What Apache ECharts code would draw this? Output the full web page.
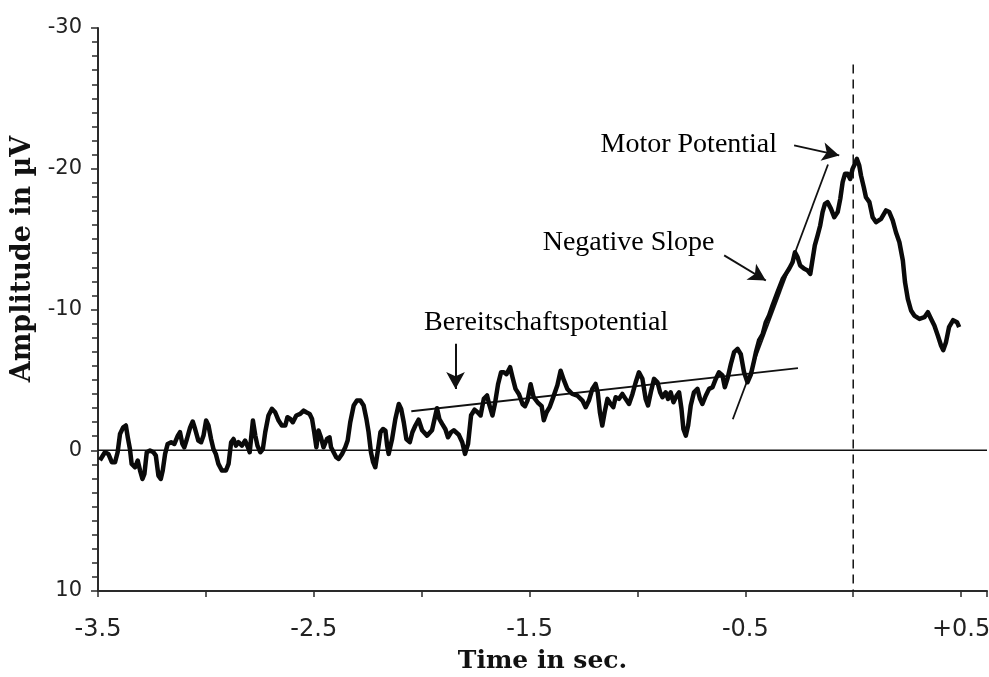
<!DOCTYPE html>
<html>
<head>
<meta charset="utf-8">
<script src="https://cdn.jsdelivr.net/npm/echarts@6/dist/echarts.min.js"></script>
<style>
html,body{margin:0;padding:0;background:#fff;}
#chart{width:989px;height:677px;}
</style>
</head>
<body>
<div id="chart"></div>
<script>
// ---- data (time in sec, amplitude in µV) ----
const time = [
-3.491,-3.468,-3.452,-3.436,-3.421,-3.409,-3.398,-3.383,-3.371,-3.362,
-3.352,-3.344,-3.328,-3.316,-3.305,-3.294,-3.285,-3.274,-3.259,-3.243,
-3.232,-3.220,-3.209,-3.200,-3.189,-3.177,-3.161,-3.146,-3.130,-3.120,
-3.109,-3.100,-3.088,-3.073,-3.061,-3.050,-3.035,-3.022,-3.011,-2.999,
-2.988,-2.976,-2.965,-2.954,-2.942,-2.926,-2.907,-2.895,-2.883,-2.872,
-2.861,-2.849,-2.833,-2.818,-2.805,-2.797,
-2.782,-2.771,-2.761,-2.748,-2.736,-2.725,-2.710,-2.694,-2.679,-2.663,
-2.648,-2.632,-2.622,-2.609,-2.597,-2.581,-2.563,-2.547,-2.535,-2.519,
-2.508,-2.498,-2.488,-2.478,-2.467,-2.455,-2.439,-2.427,-2.420,-2.408,
-2.396,-2.385,-2.369,-2.354,-2.343,-2.331,-2.315,-2.300,-2.284,-2.269,
-2.256,-2.246,-2.235,-2.225,-2.215,-2.204,-2.191,-2.179,-2.168,-2.160,
-2.153,-2.137,-2.122,-2.106,-2.095,-2.083,-2.071,-2.055,
-2.043,-2.029,-2.014,-1.998,-1.975,-1.952,-1.929,-1.918,-1.905,-1.890,
-1.878,-1.864,-1.851,-1.828,-1.812,-1.799,-1.785,-1.771,-1.755,-1.741,
-1.727,-1.712,-1.697,-1.686,-1.672,-1.660,-1.646,-1.632,-1.619,-1.607,
-1.590,-1.579,-1.565,-1.549,-1.532,-1.521,-1.509,-1.495,-1.481,-1.463,
-1.444,-1.434,-1.421,-1.407,-1.393,-1.371,-1.356,-1.341,-1.325,
-1.302,-1.279,-1.255,-1.240,-1.225,-1.209,-1.194,-1.184,-1.174,-1.163,
-1.152,-1.139,-1.124,-1.112,-1.101,-1.086,-1.070,-1.055,-1.039,-1.023,
-1.008,-0.993,-0.977,-0.962,-0.951,-0.938,-0.923,-0.907,-0.895,-0.884,
-0.869,-0.858,-0.846,-0.833,-0.818,-0.807,-0.796,-0.787,-0.776,-0.765,
-0.753,-0.738,-0.722,-0.710,-0.699,-0.683,-0.668,-0.652,-0.637,-0.622,
-0.606,-0.595,-0.583,-0.567,-0.552,-0.536,-0.521,-0.506,-0.490,-0.474,
-0.459,-0.451,-0.436,-0.420,-0.405,-0.390,-0.374,-0.351,-0.327,-0.312,
-0.297,-0.281,-0.270,-0.258,-0.246,-0.227,-0.211,-0.199,-0.188,-0.178,
-0.165,-0.153,-0.142,-0.131,-0.119,-0.103,-0.088,-0.072,-0.060,-0.049,
-0.038,-0.026,-0.014,-0.003,0.008,0.017,0.028,0.036,0.049,0.059,
0.075,0.090,0.106,0.129,0.152,0.167,0.183,0.198,0.214,0.230,
0.240,0.253,0.268,0.283,0.307,0.330,0.346,0.361,0.376,0.392,
0.407,0.417,0.430,0.444,0.463,0.481,0.491
];
const amplitude = [
0.71,0.14,0.26,0.85,0.85,0.14,-1.16,-1.63,-1.76,-0.92,
-0.09,0.97,1.21,0.73,1.44,2.04,1.68,0.14,0.02,0.14,
0.38,1.80,2.04,1.44,0.26,-0.45,-0.57,-0.45,-1.04,-1.28,
-0.45,-0.21,-0.80,-1.63,-2.04,-1.51,-0.69,-0.57,-1.04,-2.11,
-1.76,-0.80,-0.09,0.26,0.97,1.44,1.44,0.97,-0.57,-0.80,
-0.33,-0.57,-0.33,-0.69,-0.21,0.14,
-2.11,-1.04,-0.33,0.14,-0.09,-1.28,-2.47,-2.94,-2.70,-2.11,
-1.76,-1.76,-2.35,-2.22,-1.99,-2.47,-2.58,-2.82,-2.70,-2.58,
-2.22,-1.28,-0.21,-1.40,-0.92,-0.21,-0.80,-0.92,-0.21,0.14,
0.50,0.62,0.26,-0.21,-0.69,-1.99,-3.18,-3.53,-3.53,-3.18,
-2.22,-1.28,0.14,0.85,1.21,0.14,-1.28,-1.51,-1.40,-0.33,
0.26,-0.80,-2.22,-3.29,-2.94,-1.99,-0.80,-0.57,
-1.28,-1.76,-2.17,-1.42,-1.04,-1.42,-2.99,-2.22,-1.87,-1.49,
-0.92,-1.28,-1.42,-1.10,-0.57,0.26,-0.45,-2.49,-2.88,-2.70,
-2.47,-3.65,-3.89,-3.20,-2.47,-3.34,-4.69,-5.54,-5.54,-5.40,
-5.90,-5.19,-4.36,-3.98,-3.27,-3.13,-3.55,-4.69,-3.77,-3.41,
-3.13,-2.13,-2.70,-3.06,-3.65,-4.62,-5.65,-4.98,-4.36,
-4.00,-3.89,-3.53,-3.06,-3.53,-4.36,-4.71,-4.12,-2.70,-1.76,
-2.70,-3.65,-3.29,-3.06,-3.77,-3.65,-4.00,-3.65,-3.29,-4.00,
-4.83,-5.54,-5.07,-3.65,-3.18,-4.12,-5.07,-4.83,-4.12,-3.77,
-4.12,-3.65,-4.12,-3.41,-3.89,-4.12,-2.94,-1.51,-1.04,-1.76,
-3.18,-4.12,-4.36,-3.65,-3.29,-3.89,-4.36,-4.48,-5.07,-5.54,
-5.31,-4.48,-5.07,-6.13,-6.97,-7.20,-6.82,-5.54,-4.83,-5.40,
-6.40,-6.97,-7.82,-8.24,-9.10,-9.57,-10.28,-11.23,-12.17,-12.53,
-12.89,-13.36,-14.07,-13.72,-13.13,-12.89,-12.77,-12.53,-13.60,-14.55,
-15.26,-15.97,-16.92,-17.51,-17.63,-17.15,-16.56,-16.92,-17.86,-19.05,
-19.64,-19.64,-19.28,-19.99,-20.35,-20.70,-20.23,-19.52,-18.69,-17.98,
-17.63,-16.56,-16.20,-16.44,-17.04,-16.92,-16.33,-15.49,-14.78,-13.48,
-11.94,-10.75,-9.93,-9.57,-9.33,-9.45,-9.81,-9.33,-8.86,-8.15,
-7.44,-7.11,-7.68,-8.74,-9.24,-9.10,-8.74
];

// fitted slope lines
const bpFitTime = [-2.048, -0.256];
const bpFitAmp  = [-2.77, -5.83];
const nsFitTime = [-0.558, -0.117];
const nsFitAmp  = [-2.2, -20.3];

// reference lines
const zeroLineTime = [-3.5, 0.62];
const onsetTime = 0;
const onsetAmpRange = [-27.4, 10];

// annotations: label, text centre (t, v), arrow start (t, v), arrow tip (t, v)
const annoLabels = ['Motor Potential', 'Negative Slope', 'Bereitschaftspotential'];
const annoTextTime = [-0.762, -1.041, -1.423];
const annoTextAmp  = [-21.68, -14.78, -9.10];
const arrowFromTime = [-0.274, -0.598, -1.843];
const arrowFromAmp  = [-21.66, -13.84, -7.56];
const arrowToTime   = [-0.065, -0.405, -1.843];
const arrowToAmp    = [-20.95, -12.06, -4.36];

// axis ticks & labels
const xLabelValues = [-3.5, -2.5, -1.5, -0.5, 0.5];
const xLabelTexts  = ['-3.5', '-2.5', '-1.5', '-0.5', '+0.5'];
const yLabelValues = [-30, -20, -10, 0, 10];
const yLabelTexts  = ['-30', '-20', '-10', '0', '10'];
const xTitle = 'Time in sec.';
const yTitle = 'Amplitude in µV';

const chart = echarts.init(document.getElementById('chart'), null, {renderer: 'canvas'});

const trace = time.map((t, i) => [t, amplitude[i]]);
const serif = '"Liberation Serif", "DejaVu Serif", serif';
const boldSerif = '"DejaVu Serif", "Liberation Serif", serif';
const sans = '"DejaVu Sans", "Liberation Sans", sans-serif';

function lookup(vals, texts, v) {
  for (let i = 0; i < vals.length; i++) if (Math.abs(vals[i] - v) < 1e-6) return texts[i];
  return '';
}

const yTitleGraphic = {
  type: 'text', x: 23, y: 259, rotation: Math.PI / 2, silent: true,
  style: {text: yTitle, fill: '#111', font: 'bold 27px ' + boldSerif,
          textAlign: 'center', textVerticalAlign: 'middle'}
};

chart.setOption({
  animation: false,
  backgroundColor: '#fff',
  grid: {left: 98, top: 28, right: 2, bottom: 86, containLabel: false, outerBoundsMode: 'none'},
  xAxis: {
    type: 'value', min: -3.5, max: 0.62, interval: 0.5,
    axisLine: {show: true, onZero: false, lineStyle: {color: '#2a2a2a', width: 2}},
    axisTick: {show: true, length: 6, lineStyle: {color: '#2a2a2a', width: 1.5}},
    splitLine: {show: false},
    axisLabel: {
      margin: 27, color: '#222', fontFamily: sans, fontSize: 24,
      formatter: v => lookup(xLabelValues, xLabelTexts, v)
    },
    name: xTitle, nameLocation: 'middle', nameGap: 58,
    nameTextStyle: {fontFamily: boldSerif, fontWeight: 'bold', fontSize: 25, color: '#111'}
  },
  yAxis: {
    type: 'value', inverse: true, min: -30, max: 10, interval: 10,
    axisLine: {show: true, onZero: false, lineStyle: {color: '#2a2a2a', width: 2}},
    axisTick: {show: true, length: 7, lineStyle: {color: '#2a2a2a', width: 1.5}},
    minorTick: {show: true, splitNumber: 10, length: 6, lineStyle: {color: '#2a2a2a', width: 1.5}},
    splitLine: {show: false},
    axisLabel: {
      margin: 16, color: '#222', fontFamily: sans, fontSize: 21,
      formatter: v => lookup(yLabelValues, yLabelTexts, v)
    }
  },
  graphic: [yTitleGraphic],
  series: [
    {
      name: 'zero', type: 'line', symbol: 'none', silent: true,
      data: zeroLineTime.map(t => [t, 0]),
      lineStyle: {color: '#111', width: 1.5},
      markLine: {
        silent: true, symbol: ['none', 'arrow'], symbolSize: [14, 17],
        label: {show: false},
        lineStyle: {color: '#111', width: 2, type: 'solid'},
        data: annoLabels.map((_, i) => [
          {coord: [arrowFromTime[i], arrowFromAmp[i]]},
          {coord: [arrowToTime[i], arrowToAmp[i]]}
        ])
      }
    },
    {
      name: 'onset', type: 'line', symbol: 'none', silent: true,
      data: onsetAmpRange.map(v => [onsetTime, v]),
      lineStyle: {color: '#111', width: 1.5, type: [9, 6]}
    },
    {
      name: 'bpFit', type: 'line', symbol: 'none', silent: true,
      data: bpFitTime.map((t, i) => [t, bpFitAmp[i]]),
      lineStyle: {color: '#111', width: 1.8}
    },
    {
      name: 'nsFit', type: 'line', symbol: 'none', silent: true,
      data: nsFitTime.map((t, i) => [t, nsFitAmp[i]]),
      lineStyle: {color: '#111', width: 1.8}
    },
    {
      name: 'trace', type: 'line', symbol: 'none', silent: true,
      data: trace,
      lineStyle: {color: '#0a0a0a', width: 4.5, join: 'round'}
    }
  ]
});

// annotation texts placed at their data coordinates
const annoGraphics = annoLabels.map((s, i) => {
  const p = chart.convertToPixel({gridIndex: 0}, [annoTextTime[i], annoTextAmp[i]]);
  return {
    type: 'text', x: p[0], y: p[1], silent: true,
    style: {text: s, fill: '#000', font: '28px ' + serif,
            textAlign: 'center', textVerticalAlign: 'middle'}
  };
});
chart.setOption({graphic: [yTitleGraphic].concat(annoGraphics)}, {replaceMerge: ['graphic']});
</script>
</body>
</html>
